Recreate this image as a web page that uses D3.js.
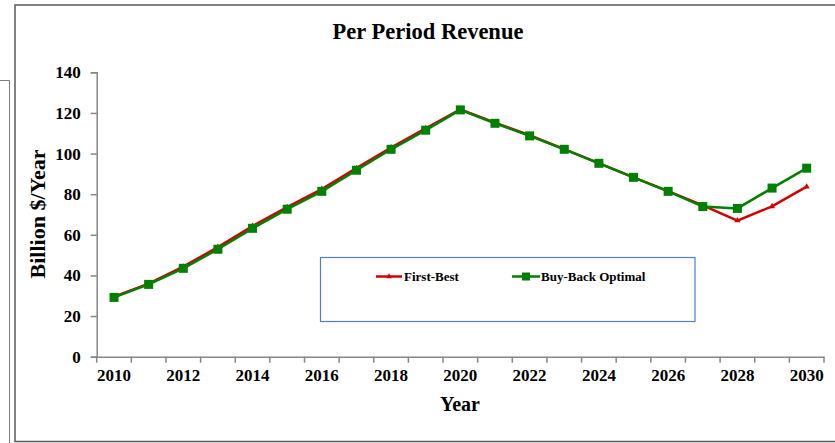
<!DOCTYPE html>
<html>
<head>
<meta charset="utf-8">
<script src="https://cdn.jsdelivr.net/npm/d3@7"></script>
<style>
  body { margin: 0; background: #fff; }
  text { font-family: "Liberation Serif", "Times New Roman", serif; font-weight: bold; }
</style>
</head>
<body>
<div id="chart"></div>
<script>

// data
var years = d3.range(2010, 2031);
var firstBest = [29.5, 36.0, 44.3, 54.0, 64.3, 73.6, 82.5, 92.8, 103.0, 112.4, 121.7,
                 115.2, 109.0, 102.2, 95.3, 88.3, 81.5, 74.5, 67.0, 74.0, 83.7];
var buyBack = [29.2, 35.6, 43.5, 52.9, 63.2, 72.6, 81.4, 91.8, 102.1, 111.5, 121.5,
               114.9, 108.7, 102.1, 95.2, 88.3, 81.4, 73.9, 73.0, 83.0, 92.8];
var yTicks = [0, 20, 40, 60, 80, 100, 120, 140];
var seriesNames = ["First-Best", "Buy-Back Optimal"];

var width = 835, height = 443;
var plot = { left: 96.7, right: 824, top: 72.3, bottom: 356.7 };

var svg = d3.select("#chart").append("svg")
  .attr("width", width)
  .attr("height", height);

// frame bits
svg.append("path")
  .attr("d", "M0,80.5H9.5V443")
  .attr("fill", "none")
  .attr("stroke", "#7f7f7f")
  .attr("stroke-width", 1);

svg.append("rect")
  .attr("x", 15).attr("y", 5)
  .attr("width", 840).attr("height", 436.5)
  .attr("fill", "#fff")
  .attr("stroke", "#595959")
  .attr("stroke-width", 1.5);

var x = d3.scaleBand()
  .domain(years)
  .range([plot.left, plot.right]);

var y = d3.scaleLinear()
  .domain([0, 140])
  .range([plot.bottom, plot.top]);

// y axis
var yAxis = svg.append("g")
  .attr("transform", "translate(" + plot.left + ",0)")
  .call(d3.axisLeft(y).tickValues(yTicks).tickSize(6).tickPadding(10));

// x axis, ticks between the categories
var xAxis = svg.append("g")
  .attr("transform", "translate(0," + plot.bottom + ")")
  .call(d3.axisBottom(x).tickSize(0).tickPadding(12)
    .tickFormat(function(d) { return (d % 2 === 0) ? d : ""; }));

xAxis.selectAll(".xtick")
  .data(years.concat([2031]))
  .enter()
  .append("line")
  .attr("class", "xtick")
  .attr("x1", function(d, i) { return plot.left + i * x.step(); })
  .attr("x2", function(d, i) { return plot.left + i * x.step(); })
  .attr("y1", 0)
  .attr("y2", 6);

svg.selectAll(".domain, .tick line, .xtick")
  .attr("stroke", "#878787")
  .attr("stroke-width", 1.5);

svg.selectAll(".tick text")
  .attr("fill", "#000")
  .style("font-size", "17px")
  .style("font-family", "'Liberation Serif', serif")
  .style("font-weight", "bold");

// titles
svg.append("text")
  .attr("x", 428).attr("y", 39)
  .attr("text-anchor", "middle")
  .style("font-size", "22.5px")
  .text("Per Period Revenue");

svg.append("text")
  .attr("transform", "translate(45,214) rotate(-90)")
  .attr("text-anchor", "middle")
  .style("font-size", "22px")
  .text("Billion $/Year");

svg.append("text")
  .attr("x", 460).attr("y", 411)
  .attr("text-anchor", "middle")
  .style("font-size", "20px")
  .text("Year");

// series
var cx = function(d, i) { return x(years[i]) + x.bandwidth() / 2; };
var line = d3.line()
  .x(cx)
  .y(function(d) { return y(d); });

svg.append("path")
  .datum(firstBest)
  .attr("d", line)
  .attr("fill", "none")
  .attr("stroke", "#d40000")
  .attr("stroke-width", 2.5);

svg.selectAll(".tri")
  .data(firstBest)
  .enter()
  .append("path")
  .attr("class", "tri")
  .attr("d", d3.symbol().type(d3.symbolTriangle).size(16))
  .attr("transform", function(d, i) { return "translate(" + cx(d, i) + "," + y(d) + ")"; })
  .attr("fill", "#d40000");

svg.append("path")
  .datum(buyBack)
  .attr("d", line)
  .attr("fill", "none")
  .attr("stroke", "#008000")
  .attr("stroke-width", 2.5);

svg.selectAll(".sq")
  .data(buyBack)
  .enter()
  .append("rect")
  .attr("class", "sq")
  .attr("x", function(d, i) { return cx(d, i) - 4.5; })
  .attr("y", function(d) { return y(d) - 4.5; })
  .attr("width", 9)
  .attr("height", 9)
  .attr("fill", "#008000");

// legend
var legend = svg.append("g");
legend.append("rect")
  .attr("x", 320.5).attr("y", 257.5)
  .attr("width", 374.5).attr("height", 64)
  .attr("fill", "#fff")
  .attr("stroke", "#4f81bd")
  .attr("stroke-width", 1.2);

var legY = 276.5;
legend.append("line")
  .attr("x1", 376).attr("x2", 402).attr("y1", legY).attr("y2", legY)
  .attr("stroke", "#d40000").attr("stroke-width", 2.5);
legend.append("path")
  .attr("d", d3.symbol().type(d3.symbolTriangle).size(14))
  .attr("transform", "translate(389," + legY + ")")
  .attr("fill", "#d40000");
legend.append("text")
  .attr("x", 404).attr("y", legY + 4.5)
  .style("font-size", "13px")
  .text(seriesNames[0]);

legend.append("line")
  .attr("x1", 512).attr("x2", 540).attr("y1", legY).attr("y2", legY)
  .attr("stroke", "#008000").attr("stroke-width", 2.5);
legend.append("rect")
  .attr("x", 522).attr("y", legY - 4).attr("width", 8).attr("height", 8)
  .attr("fill", "#008000");
legend.append("text")
  .attr("x", 541).attr("y", legY + 4.5)
  .style("font-size", "13px")
  .text(seriesNames[1]);

</script>
</body>
</html>
